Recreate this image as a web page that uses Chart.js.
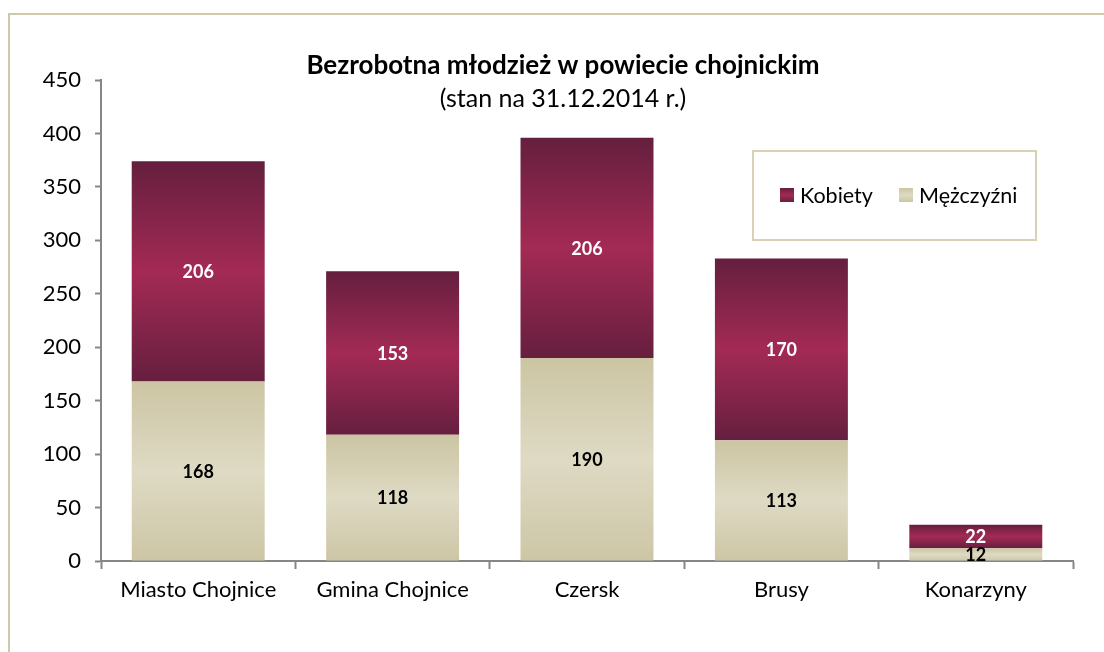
<!DOCTYPE html>
<html>
<head>
<meta charset="utf-8">
<script src="https://cdn.jsdelivr.net/npm/chart.js@4.4.0/dist/chart.umd.min.js"></script>
<style>
  html, body { margin: 0; padding: 0; background: #fff; }
  #wrap { position: relative; width: 1104px; height: 652px; overflow: hidden; }
  #frame {
    position: absolute; left: 8px; top: 13px; width: 1200px; height: 800px;
    border-left: 2px solid #CFC9AA; border-top: 2px solid #CFC9AA;
  }
  #chart { position: absolute; left: 0; top: 0; }
</style>
</head>
<body>
<div id="wrap">
  <div id="frame"></div>
  <canvas id="chart" width="1104" height="652"></canvas>
</div>
<script>
// Data
const categories = ['Miasto Chojnice', 'Gmina Chojnice', 'Czersk', 'Brusy', 'Konarzyny'];
const kobiety = [206, 153, 206, 170, 22];
const mezczyzni = [168, 118, 190, 113, 12];
const yTicks = [0, 50, 100, 150, 200, 250, 300, 350, 400, 450];

const titleText = 'Bezrobotna młodzież w powiecie chojnickim';
const subtitleText = '(stan na 31.12.2014 r.)';
const FONT = 'Lato, "Open Sans", sans-serif';

// Vertical gradient across a single bar segment
function barGradient(ctx, from, to, stops) {
  const chart = ctx.chart;
  if (!chart.chartArea || !chart.scales.y) return stops[1];
  const y = chart.scales.y;
  const i = ctx.dataIndex;
  const top = y.getPixelForValue(to(i));
  const bottom = y.getPixelForValue(from(i));
  const g = chart.ctx.createLinearGradient(0, top, 0, bottom);
  g.addColorStop(0, stops[0]);
  g.addColorStop(0.5, stops[1]);
  g.addColorStop(1, stops[2]);
  return g;
}

const kobietyStops = ['#651F3E', '#A32A54', '#661F3F'];
const mezczyzniStops = ['#CCC5A3', '#DEDAC4', '#CDC6A5'];

// Title, legend box and data labels
const decorPlugin = {
  id: 'decor',
  afterDatasetsDraw(chart) {
    const ctx = chart.ctx;
    ctx.save();
    // data labels
    chart.data.datasets.forEach((ds, di) => {
      const meta = chart.getDatasetMeta(di);
      meta.data.forEach((bar, i) => {
        const cy = (bar.y + bar.base) / 2;
        ctx.font = 'bold 18px ' + FONT;
        ctx.textAlign = 'center';
        ctx.textBaseline = 'middle';
        ctx.fillStyle = ds.labelColor;
        ctx.fillText(String(ds.data[i]), bar.x, cy + 1);
      });
    });
    ctx.restore();
  },
  afterDraw(chart) {
    const ctx = chart.ctx;
    ctx.save();
    // title
    ctx.fillStyle = '#000';
    ctx.textAlign = 'center';
    ctx.textBaseline = 'middle';
    ctx.font = 'bold 26px ' + FONT;
    ctx.fillText(titleText, 563, 66);
    ctx.font = '25px ' + FONT;
    ctx.fillText(subtitleText, 563, 99);

    // legend box
    ctx.strokeStyle = '#D8D2B4';
    ctx.lineWidth = 2;
    ctx.strokeRect(753, 151, 283, 89);
    ctx.font = '21.5px ' + FONT;
    ctx.textAlign = 'left';
    const items = [
      { text: 'Kobiety', stops: kobietyStops, x: 780 },
      { text: 'Mężczyźni', stops: mezczyzniStops, x: 899 }
    ];
    items.forEach(it => {
      const g = ctx.createLinearGradient(0, 188, 0, 202);
      g.addColorStop(0, it.stops[0]);
      g.addColorStop(0.5, it.stops[1]);
      g.addColorStop(1, it.stops[2]);
      ctx.fillStyle = g;
      ctx.fillRect(it.x, 188, 14, 14);
      ctx.fillStyle = '#000';
      ctx.fillText(it.text, it.x + 20, 196);
    });
    ctx.restore();
  }
};

new Chart(document.getElementById('chart'), {
  type: 'bar',
  data: {
    labels: categories,
    datasets: [
      {
        label: 'Mężczyźni',
        data: mezczyzni,
        labelColor: '#000',
        backgroundColor: ctx => barGradient(ctx, () => 0, i => mezczyzni[i], mezczyzniStops)
      },
      {
        label: 'Kobiety',
        data: kobiety,
        labelColor: '#fff',
        backgroundColor: ctx => barGradient(ctx, i => mezczyzni[i], i => mezczyzni[i] + kobiety[i], kobietyStops)
      }
    ]
  },
  options: {
    responsive: false,
    animation: false,
    events: [],
    layout: { padding: { left: 0, top: 80, right: 31, bottom: 0 } },
    datasets: {
      bar: { categoryPercentage: 1, barPercentage: 0.684, borderWidth: 0 }
    },
    plugins: {
      legend: { display: false },
      title: { display: false },
      tooltip: { enabled: false }
    },
    scales: {
      x: {
        stacked: true,
        offset: true,
        grid: {
          offset: true, drawOnChartArea: false, drawTicks: true,
          tickLength: 8, tickColor: '#868686', tickWidth: 2
        },
        border: { color: '#868686', width: 2 },
        ticks: { color: '#000', font: { family: FONT, size: 22 }, padding: 8, maxRotation: 0 },
        afterFit: s => { s.height = 91; }
      },
      y: {
        stacked: true,
        min: 0,
        max: 450,
        afterBuildTicks: s => { s.ticks = yTicks.map(v => ({ value: v })); },
        grid: {
          drawOnChartArea: false, drawTicks: true,
          tickLength: 6, tickColor: '#868686', tickWidth: 2
        },
        border: { color: '#868686', width: 2 },
        ticks: { color: '#000', font: { family: FONT, size: 22 }, padding: 14 },
        afterFit: s => { s.width = 101; }
      }
    }
  },
  plugins: [decorPlugin]
});
</script>
</body>
</html>
